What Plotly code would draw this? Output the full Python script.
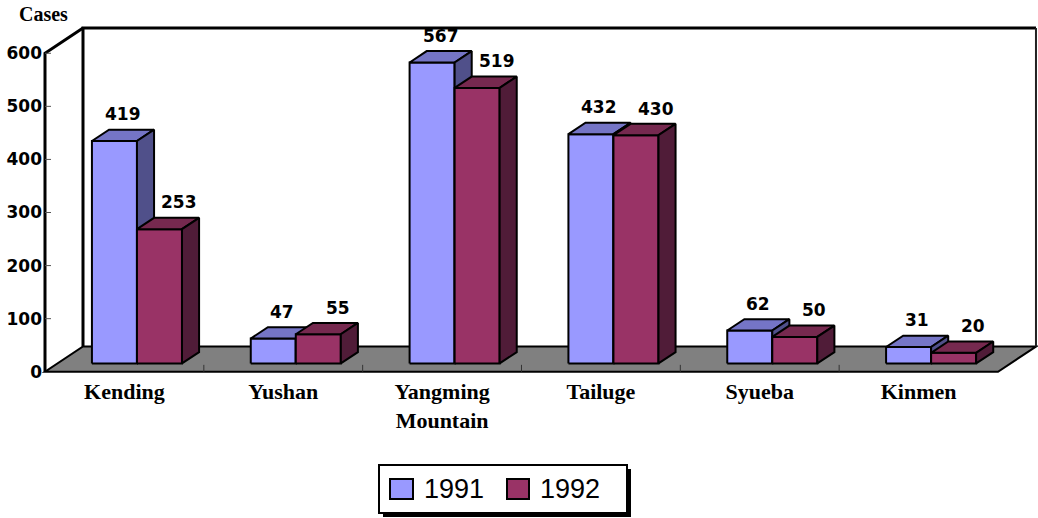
import plotly.graph_objects as go

# ---------------- data ----------------
categories = ["Kending", "Yushan", "Yangming<br>Mountain", "Tailuge", "Syueba", "Kinmen"]
series_names = ["1991", "1992"]
cases_1991 = [419, 47, 567, 432, 62, 31]
cases_1992 = [253, 55, 519, 430, 50, 20]
y_ticks = [0, 100, 200, 300, 400, 500, 600]
y_title = "Cases"

# ---------------- styling / geometry ----------------
front_colors = ["#9999FF", "#993366"]
top_colors = ["#7575C6", "#76294F"]
side_colors = ["#50508A", "#501C38"]
label_xshift = [0, 11]
NUM_FONT = "DejaVu Sans"
SERIF = "Liberation Serif, Times New Roman"

W, H = 1038, 518
L, R, T, B = 40, 0, 22, 142
PW, PH = W - L - R, H - T - B
PX_PER_CAT = 158.83
PX_PER_VAL = 0.5308
XR = [-5 / PX_PER_CAT, -5 / PX_PER_CAT + PW / PX_PER_CAT]
YR = [-8, -8 + PH / PX_PER_VAL]

NCAT = len(categories)
YMAX = y_ticks[-1]
DX = 38 / PX_PER_CAT      # depth offset in x units
DY = 47.5                 # depth offset in value units
F0, F1 = 0.33, 0.78       # bar front/back depth fractions
BAR_W = 0.2835
ddx, ddy = (F1 - F0) * DX, (F1 - F0) * DY


def px2paper(px, py):
    return (px - L) / PW, (H - B - py) / PH


fig = go.Figure()

# ---------------- bars (pseudo 3D) ----------------
series_vals = [cases_1991, cases_1992]
annotations = []
for s, vals in enumerate(series_vals):
    fx, fy, tx, ty, sx, sy = [], [], [], [], [], []
    for i, v in enumerate(vals):
        x0 = i + 0.5 - BAR_W + s * BAR_W + F0 * DX
        x1 = x0 + BAR_W
        yb = F0 * DY
        yt = yb + v
        fx += [x0, x1, x1, x0, x0, None]
        fy += [yb, yb, yt, yt, yb, None]
        tx += [x0, x1, x1 + ddx, x0 + ddx, x0, None]
        ty += [yt, yt, yt + ddy, yt + ddy, yt, None]
        sx += [x1, x1 + ddx, x1 + ddx, x1, x1, None]
        sy += [yb, yb + ddy, yt + ddy, yt, yb, None]
        annotations.append(dict(
            x=x0 + BAR_W / 2 + ddx / 2, y=yt + ddy / 2, xref="x", yref="y",
            text=str(v), showarrow=False, xanchor="center", yanchor="middle",
            yshift=21, xshift=label_xshift[s],
            font=dict(family=NUM_FONT, size=17, color="black", weight="bold")))
    for xs, ys, col in [(fx, fy, front_colors[s]), (tx, ty, top_colors[s]), (sx, sy, side_colors[s])]:
        fig.add_trace(go.Scatter(
            x=xs, y=ys, mode="lines", fill="toself", fillcolor=col,
            line=dict(color="black", width=2), name=series_names[s],
            showlegend=False, hoverinfo="skip", cliponaxis=False))

# ---------------- walls / floor ----------------
shapes = []
shapes.append(dict(type="path", xref="x", yref="y", layer="below",
                   path=f"M0,0 L{NCAT},0 L{NCAT + DX},{DY} L{DX},{DY} Z",
                   fillcolor="#808080", line=dict(color="black", width=2)))
shapes.append(dict(type="path", xref="x", yref="y", layer="below",
                   path=f"M{DX},{DY} L{DX},{YMAX + DY} L{NCAT + DX},{YMAX + DY}",
                   line=dict(color="black", width=3)))
shapes.append(dict(type="line", xref="x", yref="y", layer="below",
                   x0=NCAT + DX, x1=NCAT + DX, y0=DY, y1=YMAX + DY,
                   line=dict(color="#222222", width=2)))
shapes.append(dict(type="path", xref="x", yref="y", layer="below",
                   path=f"M0,0 L0,{YMAX} L{DX},{YMAX + DY}",
                   line=dict(color="black", width=3)))
for v in y_ticks[1:]:
    shapes.append(dict(type="line", xref="x", yref="y", layer="below",
                       x0=0, x1=6 / PX_PER_CAT, y0=v, y1=v,
                       line=dict(color="#555555", width=1)))
for i in range(1, NCAT):
    shapes.append(dict(type="line", xref="x", yref="y", layer="below",
                       x0=i, x1=i, y0=0, y1=13,
                       line=dict(color="#333333", width=1)))

# ---------------- legend (drawn) ----------------
lx0, ly0 = px2paper(379, 465)
lx1, ly1 = px2paper(627, 513)
sx0, sy0 = px2paper(383, 469)
sx1, sy1 = px2paper(631, 517)
shapes.append(dict(type="rect", xref="paper", yref="paper", x0=sx0, x1=sx1, y0=sy0, y1=sy1,
                   fillcolor="black", line=dict(width=0)))
shapes.append(dict(type="rect", xref="paper", yref="paper", x0=lx0, x1=lx1, y0=ly0, y1=ly1,
                   fillcolor="white", line=dict(color="black", width=2)))
leg_items = [(390, 413, 422), (507, 529, 538)]
for s, (a, b, tx_) in enumerate(leg_items):
    qx0, qy0 = px2paper(a, 479)
    qx1, qy1 = px2paper(b, 499)
    shapes.append(dict(type="rect", xref="paper", yref="paper", x0=qx0, x1=qx1, y0=qy0, y1=qy1,
                       fillcolor=front_colors[s], line=dict(color="black", width=2)))
    ax_, ay_ = px2paper(tx_, 489)
    annotations.append(dict(x=ax_, y=ay_, xref="paper", yref="paper", text=series_names[s],
                            showarrow=False, xanchor="left", yanchor="middle",
                            font=dict(family="Arial, Liberation Sans", size=27, color="black")))

cx, cy = px2paper(43, 14)
annotations.append(dict(x=cx, y=cy, xref="paper", yref="paper", text=y_title, showarrow=False,
                        xanchor="center", yanchor="middle",
                        font=dict(family=SERIF, size=20, color="black", weight="bold")))

fig.update_layout(
    width=W, height=H, margin=dict(l=L, r=R, t=T, b=B, autoexpand=False),
    paper_bgcolor="white", plot_bgcolor="white",
    shapes=shapes, annotations=annotations, showlegend=False,
    xaxis=dict(range=XR, tickvals=[i + 0.5 for i in range(NCAT)], ticktext=categories,
               showgrid=False, zeroline=False, showline=False, ticks="", automargin=False,
               tickfont=dict(family=SERIF, size=22, color="black", weight="bold"),
               fixedrange=True),
    yaxis=dict(range=YR, tickvals=y_ticks, showgrid=False, zeroline=False, showline=False,
               ticks="", ticklabelstandoff=-3, automargin=False,
               tickfont=dict(family=NUM_FONT, size=17, color="black", weight="bold"),
               fixedrange=True),
)

fig.write_html("out.html", config={"displayModeBar": False},
               post_script="document.body.style.margin='0';")
